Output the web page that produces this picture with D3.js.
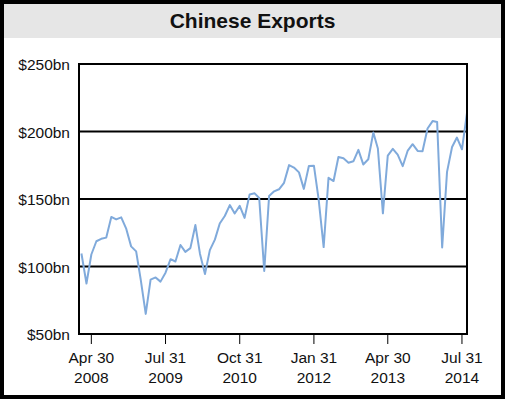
<!DOCTYPE html>
<meta charset="utf-8">
<script src="https://d3js.org/d3.v7.min.js"></script>
<style>
  body { margin: 0; background: #fff; }
  text { font-family: "Liberation Sans", Arial, sans-serif; fill: #111; }
  .title { font-size: 21px; font-weight: bold; }
  .ylab, .xlab { font-size: 15.5px; }
</style>
<div id="chart"></div>
<script>
// monthly exports, $bn (first point = Jan 2008 data, plotted at end of Feb 2008)
var months = [
  "2008-02-29","2008-03-31","2008-04-30","2008-05-31","2008-06-30","2008-07-31","2008-08-31","2008-09-30","2008-10-31","2008-11-30","2008-12-31",
  "2009-01-31","2009-02-28","2009-03-31","2009-04-30","2009-05-31","2009-06-30","2009-07-31","2009-08-31","2009-09-30","2009-10-31","2009-11-30","2009-12-31",
  "2010-01-31","2010-02-28","2010-03-31","2010-04-30","2010-05-31","2010-06-30","2010-07-31","2010-08-31","2010-09-30","2010-10-31","2010-11-30","2010-12-31",
  "2011-01-31","2011-02-28","2011-03-31","2011-04-30","2011-05-31","2011-06-30","2011-07-31","2011-08-31","2011-09-30","2011-10-31","2011-11-30","2011-12-31",
  "2012-01-31","2012-02-29","2012-03-31","2012-04-30","2012-05-31","2012-06-30","2012-07-31","2012-08-31","2012-09-30","2012-10-31","2012-11-30","2012-12-31",
  "2013-01-31","2013-02-28","2013-03-31","2013-04-30","2013-05-31","2013-06-30","2013-07-31","2013-08-31","2013-09-30","2013-10-31","2013-11-30","2013-12-31",
  "2014-01-31","2014-02-28","2014-03-31","2014-04-30","2014-05-31","2014-06-30","2014-07-31","2014-08-31"
];
var exports = [
  109.6, 87.4, 108.9, 118.7, 120.5, 121.4, 136.7, 134.9, 136.4, 128.3, 114.9,
  111.2, 90.5, 64.9, 90.3, 91.9, 88.8, 95.4, 105.4, 103.7, 115.9, 110.8, 113.6,
  130.7, 109.5, 94.5, 112.1, 119.9, 131.8, 137.4, 145.5, 139.3, 144.9, 136.0, 153.4,
  154.2, 150.7, 96.7, 152.2, 155.7, 157.2, 162.0, 175.1, 173.3, 169.7, 157.5, 174.5,
  174.7, 149.9, 114.4, 165.7, 163.3, 181.1, 180.2, 176.9, 177.9, 186.4, 175.6, 179.4,
  199.2, 187.4, 139.4, 182.2, 187.1, 182.8, 174.3, 185.9, 190.6, 185.6, 185.4, 202.2,
  207.7, 207.1, 114.1, 170.1, 188.5, 195.5, 186.8, 213.8
];
var xTicks = ["2008-04-30","2009-07-31","2010-10-31","2012-01-31","2013-04-30","2014-07-31"];
var yTicks = [50, 100, 150, 200, 250];
var xStart = "2008-02-14";

var W = 505, H = 399;
var margin = {top: 64, right: 38, bottom: 65, left: 79};
var parse = d3.timeParse("%Y-%m-%d");
var data = months.map(function(m, i) { return {date: parse(m), value: exports[i]}; });

var svg = d3.select("#chart").append("svg").attr("width", W).attr("height", H);

// frame + title bar
svg.append("rect").attr("x", 2).attr("y", 2).attr("width", W - 4).attr("height", 36).attr("fill", "#e6e6e6");
svg.append("rect").attr("x", 2).attr("y", 2).attr("width", W - 4).attr("height", H - 4)
  .attr("fill", "none").attr("stroke", "#000").attr("stroke-width", 4);
svg.append("text").attr("class", "title").attr("x", W / 2).attr("y", 28)
  .attr("text-anchor", "middle").text("Chinese Exports");

var x = d3.scaleTime()
  .domain([parse(xStart), data[data.length - 1].date])
  .range([margin.left, W - margin.right]);
var y = d3.scaleLinear().domain([50, 250]).range([H - margin.bottom, margin.top]);

// gridlines
svg.append("g").selectAll("line").data(yTicks.slice(1, -1)).enter().append("line")
  .attr("x1", margin.left).attr("x2", W - margin.right)
  .attr("y1", function(d) { return y(d); }).attr("y2", function(d) { return y(d); })
  .attr("stroke", "#000").attr("stroke-width", 2);

// y labels
svg.append("g").selectAll("text").data(yTicks).enter().append("text")
  .attr("class", "ylab").attr("x", margin.left - 9).attr("y", function(d) { return y(d); })
  .attr("dy", "0.4em").attr("text-anchor", "end")
  .text(function(d) { return "$" + d + "bn"; });

// x ticks
var fmtDay = d3.timeFormat("%b %d"), fmtYear = d3.timeFormat("%Y");
var xt = svg.append("g").selectAll("g").data(xTicks.map(parse)).enter().append("g")
  .attr("transform", function(d) { return "translate(" + x(d) + ",0)"; });
xt.append("line").attr("y1", y(50)).attr("y2", y(50) + 10).attr("stroke", "#000").attr("stroke-width", 1);
xt.append("text").attr("class", "xlab").attr("y", y(50) + 29).attr("text-anchor", "middle").text(fmtDay);
xt.append("text").attr("class", "xlab").attr("y", y(50) + 49).attr("text-anchor", "middle").text(fmtYear);

// series
var line = d3.line().x(function(d) { return x(d.date); }).y(function(d) { return y(d.value); });
svg.append("path").datum(data).attr("d", line)
  .attr("fill", "none").attr("stroke", "#80aadb").attr("stroke-width", 2).attr("stroke-linejoin", "round");

// plot border
svg.append("rect").attr("x", margin.left).attr("y", margin.top)
  .attr("width", W - margin.left - margin.right).attr("height", H - margin.top - margin.bottom)
  .attr("fill", "none").attr("stroke", "#000").attr("stroke-width", 2);
</script>
